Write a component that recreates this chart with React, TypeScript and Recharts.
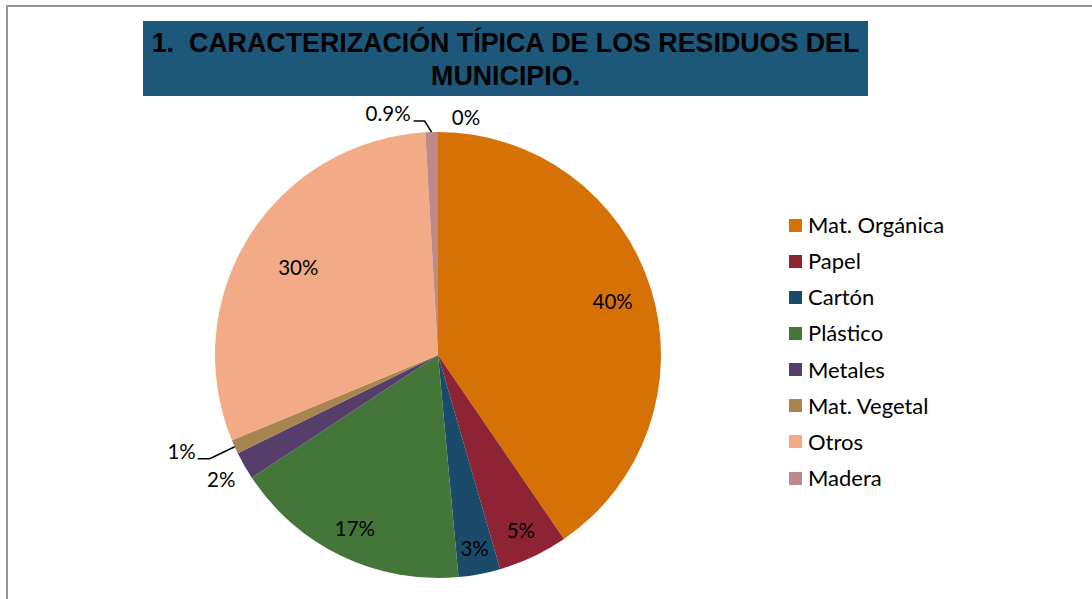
import React from 'react';
import { PieChart, Pie, Cell, Legend } from 'recharts';

const categories = ['Mat. Orgánica', 'Papel', 'Cartón', 'Plástico', 'Metales', 'Mat. Vegetal', 'Otros', 'Madera', ''];
const values = [40, 5, 3, 17, 2, 1, 30, 0.9, 0];
const valueLabels = ['40%', '5%', '3%', '17%', '2%', '1%', '30%', '0.9%', '0%'];
const colors = ['#D67106', '#8D2333', '#1A4B6B', '#44763A', '#553F6A', '#A88450', '#F3AA86', '#BD898C', '#7F7F7F'];

const data = categories.map((name, i) => ({ name, value: values[i] }));

const FONT = 'Lato, "Open Sans", sans-serif';
const RAD = Math.PI / 180;

type LabelCfg =
  | { kind: 'radial'; rf: number }
  | { kind: 'leader'; elbow: [number, number]; end: [number, number]; text: [number, number]; anchor: 'start' | 'middle' | 'end' }
  | { kind: 'offset'; text: [number, number] };

const labelCfg: LabelCfg[] = [
  { kind: 'radial', rf: 0.82 },
  { kind: 'radial', rf: 0.87 },
  { kind: 'radial', rf: 0.88 },
  { kind: 'radial', rf: 0.86 },
  { kind: 'radial', rf: 1.12 },
  { kind: 'leader', elbow: [-25, 12], end: [-37, 12], text: [-39, 4], anchor: 'end' },
  { kind: 'radial', rf: 0.74 },
  { kind: 'leader', elbow: [-7, -11], end: [-18, -11], text: [-21, -19], anchor: 'end' },
  { kind: 'offset', text: [28, -15] },
];

const renderLabel = (props: any) => {
  const { cx, cy, midAngle, outerRadius, index } = props;
  const cfg = labelCfg[index];
  const cos = Math.cos(-midAngle * RAD);
  const sin = Math.sin(-midAngle * RAD);
  const txt = valueLabels[index];
  const style = { fontFamily: FONT, fontSize: 20.5, fill: '#000' };
  if (cfg.kind === 'radial') {
    const r = outerRadius * cfg.rf;
    return (
      <text key={index} x={cx + r * cos} y={cy + r * sin} textAnchor="middle" dominantBaseline="central" style={style}>
        {txt}
      </text>
    );
  }
  const ex = cx + outerRadius * cos;
  const ey = cy + outerRadius * sin;
  if (cfg.kind === 'offset') {
    return (
      <text key={index} x={ex + cfg.text[0]} y={ey + cfg.text[1]} textAnchor="middle" dominantBaseline="central" style={style}>
        {txt}
      </text>
    );
  }
  return (
    <g key={index}>
      <polyline
        points={`${ex},${ey} ${ex + cfg.elbow[0]},${ey + cfg.elbow[1]} ${ex + cfg.end[0]},${ey + cfg.end[1]}`}
        fill="none"
        stroke="#000"
        strokeWidth={1.5}
      />
      <text x={ex + cfg.text[0]} y={ey + cfg.text[1]} textAnchor={cfg.anchor} dominantBaseline="central" style={style}>
        {txt}
      </text>
    </g>
  );
};

const renderLegend = (props: any) => {
  const items = (props.payload || []).filter((p: any) => p.value !== '' && p.value != null);
  return (
    <div style={{ fontFamily: FONT, fontSize: 22, color: '#000' }}>
      {items.map((p: any, i: number) => (
        <div key={i} style={{ height: 36.15, display: 'flex', alignItems: 'center' }}>
          <span style={{ width: 13, height: 13, background: p.color, display: 'inline-block', marginRight: 6, flexShrink: 0 }} />
          <span style={{ lineHeight: '22px' }}>{p.value}</span>
        </div>
      ))}
    </div>
  );
};

export default function App() {
  return (
    <div style={{ position: 'absolute', left: 0, top: 0, width: 1092, height: 599, overflow: 'hidden', background: '#fff' }}>
      <div style={{ position: 'absolute', left: 6, top: 5, width: 1200, height: 700, borderLeft: '2px solid #949494', borderTop: '2px solid #949494' }} />
      <div style={{ position: 'absolute', left: 0, top: 0 }}>
        <PieChart width={1092} height={599} margin={{ top: 0, right: 0, bottom: 0, left: 0 }}>
          <Pie
            data={data}
            dataKey="value"
            nameKey="name"
            cx={438}
            cy={355}
            outerRadius={223}
            startAngle={90}
            endAngle={-270}
            stroke="none"
            label={renderLabel}
            labelLine={false}
            isAnimationActive={false}
          >
            {data.map((d, i) => (
              <Cell key={i} fill={colors[i]} />
            ))}
          </Pie>
          <Legend
            content={renderLegend}
            layout="vertical"
            verticalAlign="middle"
            align="right"
            itemSorter={null as any}
            wrapperStyle={{ left: 789, top: 207, right: 'auto', width: 240 }}
          />
        </PieChart>
      </div>
      <div
        style={{
          position: 'absolute',
          left: 143,
          top: 21,
          width: 725,
          height: 75,
          background: '#1D5779',
          color: '#000',
          fontFamily: '"Liberation Sans", Arial, sans-serif',
          fontWeight: 'bold',
          fontSize: 26.8,
          lineHeight: '33px',
          textAlign: 'center',
          whiteSpace: 'pre',
          paddingTop: 6,
          boxSizing: 'border-box',
        }}
      >
        {'1.  CARACTERIZACIÓN TÍPICA DE LOS RESIDUOS DEL\nMUNICIPIO.'}
      </div>
    </div>
  );
}
